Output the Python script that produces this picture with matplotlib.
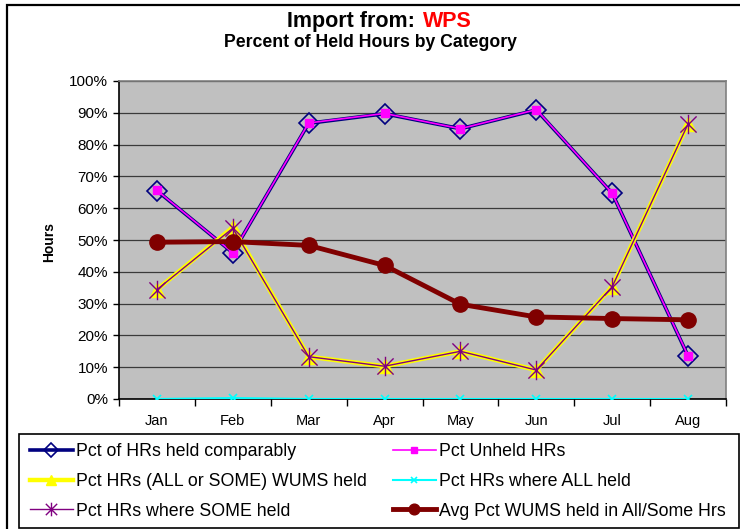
import matplotlib
matplotlib.use("Agg")
import matplotlib.pyplot as plt
from matplotlib.path import Path
from matplotlib.patches import Rectangle
from matplotlib.ticker import FuncFormatter, FixedLocator

plt.rcParams['font.family'] = ['Liberation Sans', 'DejaVu Sans']

months = ["Jan", "Feb", "Mar", "Apr", "May", "Jun", "Jul", "Aug"]
comparably = [65.5, 46.0, 86.7, 89.7, 85.0, 90.9, 64.7, 13.5]
unheld = [65.6, 46.0, 86.8, 89.8, 85.0, 91.0, 64.7, 13.6]
all_or_some = [34.4, 54.0, 13.3, 10.3, 15.0, 9.1, 35.3, 86.5]
all_held = [0.0, 0.3, 0.0, 0.0, 0.0, 0.0, 0.0, 0.0]
some_held = [34.4, 53.7, 13.3, 10.3, 15.0, 9.1, 35.3, 86.5]
avg_pct = [49.3, 49.5, 48.3, 42.0, 29.8, 25.8, 25.3, 24.9]
y_ticks = [0, 10, 20, 30, 40, 50, 60, 70, 80, 90, 100]

W, H = 740, 529
fig = plt.figure(figsize=(W / 100, H / 100), dpi=100)

def fx(px):
    return px / W

def fy(py):
    return 1 - py / H

left, right, top, bottom = 119, 726, 81, 399
ax = fig.add_axes([fx(left), fy(bottom), (right - left) / W, (bottom - top) / H])
ax.set_facecolor('#C0C0C0')

x = list(range(len(months)))

star = Path([(-1, -1), (1, 1), (-1, 1), (1, -1), (0, -1.2), (0, 1.2)],
            [Path.MOVETO, Path.LINETO, Path.MOVETO, Path.LINETO, Path.MOVETO, Path.LINETO])

l1, = ax.plot(x, comparably, color='#000080', lw=2.6, marker='D', ms=10,
              mfc='none', mec='#000080', mew=1.2, label='Pct of HRs held comparably', zorder=3)
l2, = ax.plot(x, unheld, color='#FF00FF', lw=1.2, marker='s', ms=5.5,
              mfc='#FF00FF', mec='#FF00FF', label='Pct Unheld HRs', zorder=4)
l3, = ax.plot(x, all_or_some, color='#FFFF00', lw=3.2, marker='^', ms=10,
              mfc='#FFFF00', mec='#FFFF00', label='Pct HRs (ALL or SOME) WUMS held', zorder=5)
l4, = ax.plot(x, all_held, color='#00FFFF', lw=1.5, marker='x', ms=6, mew=1.2,
              label='Pct HRs where ALL held', zorder=6)
l5, = ax.plot(x, some_held, color='#800080', lw=1.0, marker=star, ms=14, mew=1.0,
              mfc='none', mec='#800080', label='Pct HRs where SOME held', zorder=7)
l6, = ax.plot(x, avg_pct, color='#800000', lw=3.5, marker='o', ms=11,
              mfc='#800000', mec='#800000', label='Avg Pct WUMS held in All/Some Hrs', zorder=8)

ax.set_xlim(-0.5, len(months) - 0.5)
ax.set_ylim(0, 100)
ax.set_yticks(y_ticks)
ax.yaxis.set_major_formatter(FuncFormatter(lambda v, p: f"{int(v)}%"))
ax.yaxis.grid(True, color='#3a3a3a', lw=0.9)
ax.set_axisbelow(True)

ax.set_xticks(x)
ax.set_xticklabels(months)
ax.xaxis.set_minor_locator(FixedLocator([i - 0.5 for i in range(len(months) + 1)]))
ax.tick_params(axis='x', which='major', length=0, pad=11, labelsize=10.5)
ax.tick_params(axis='x', which='minor', length=5, direction='out', width=1, color='black')
ax.tick_params(axis='y', length=4, direction='out', width=1, pad=4, labelsize=11)

for s in ['top', 'right']:
    ax.spines[s].set_color('#808080')
    ax.spines[s].set_linewidth(1.2)
ax.spines['left'].set_color('black')
ax.spines['bottom'].set_color('black')
ax.spines['left'].set_linewidth(1.2)
ax.spines['bottom'].set_linewidth(1.2)

# titles
fig.text(fx(415), fy(27), "Import from:", ha='right', va='baseline',
         fontsize=15.5, fontweight='bold', color='black')
fig.text(fx(423), fy(27), "WPS", ha='left', va='baseline',
         fontsize=15.5, fontweight='bold', color='#FF0000')
fig.text(fx(370), fy(47), "Percent of Held Hours by Category", ha='center', va='baseline',
         fontsize=12.7, fontweight='bold')
fig.text(fx(49), fy(242), "Hours", rotation=90, ha='center', va='center',
         fontsize=10, fontweight='bold')

# outer border and legend frame
fig.patches.append(Rectangle((fx(7), fy(535)), fx(745) - fx(7), fy(5) - fy(535),
                             transform=fig.transFigure, fill=False, ec='black', lw=1.6))
fig.patches.append(Rectangle((fx(19), fy(528)), fx(739) - fx(19), fy(434) - fy(528),
                             transform=fig.transFigure, fill=False, ec='black', lw=1.2))

common = dict(frameon=False, fontsize=12.8, handlelength=2.4, handletextpad=0.2,
              labelspacing=0.72, borderpad=0, borderaxespad=0, loc='upper left',
              markerscale=0.7)
fig.legend(handles=[l1, l3, l5], bbox_to_anchor=(fx(30), fy(443)), **common)
fig.legend(handles=[l2, l4, l6], bbox_to_anchor=(fx(393), fy(443)), **common)

fig.savefig("out.png", dpi=100)
